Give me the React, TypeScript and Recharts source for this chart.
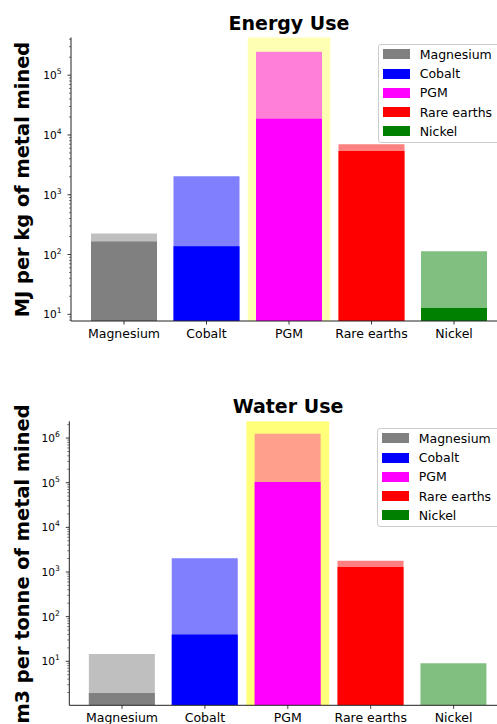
import React from 'react';
import { BarChart, Bar, XAxis, YAxis, ReferenceArea, Cell, Legend } from 'recharts';

const categories = ['Magnesium', 'Cobalt', 'PGM', 'Rare earths', 'Nickel'];
const energyMax = [224, 2040, 247000, 6970, 113];
const energyMin = [165, 137, 18600, 5410, 12.7];
const waterMax = [14.6, 2040, 1250000, 1775, 9];
const waterMin = [1.95, 40, 103000, 1300, null];
const darkColors = ['#808080', '#0000ff', '#ff00ff', '#ff0000', '#008000'];
const energyLightColors = ['#bfbfbf', '#8080ff', '#ff80d6', '#ff8080', '#80bf80'];
const waterLightColors = ['#bfbfbf', '#8080ff', '#ffa08c', '#ff8080', '#80bf80'];

const FONT = 'DejaVu Sans, Verdana, sans-serif';

const logTicks = (lo: number, hi: number) => {
  const out: number[] = [];
  for (let e = -1; e <= 7; e++) {
    for (let m = 1; m <= 9; m++) {
      const v = m * Math.pow(10, e);
      if (v >= lo && v <= hi) out.push(v);
    }
  }
  return out;
};

const YTick = (props: any) => {
  const { x, y, payload } = props;
  const v = payload.value;
  const exp = Math.log10(v);
  const major = Math.abs(exp - Math.round(exp)) < 1e-6;
  return (
    <g>
      <line x1={x} x2={x - (major ? 3.5 : 2)} y1={y} y2={y} stroke="#222" strokeWidth={major ? 0.9 : 0.6} />
      {major && (
        <text x={x - 9.5} y={y + 4} textAnchor="end" fontSize={10.6} fontFamily={FONT} fill="#000">
          10<tspan dy={-5} fontSize={7.6}>{Math.round(exp)}</tspan>
        </text>
      )}
    </g>
  );
};

const XTick = (props: any) => {
  const { x, y, payload } = props;
  return (
    <g>
      <line x1={x} x2={x} y1={y} y2={y + 3.5} stroke="#222" strokeWidth={0.9} />
      <text x={x} y={y + 17} textAnchor="middle" fontSize={12.5} fontFamily={FONT} fill="#000">
        {payload.value}
      </text>
    </g>
  );
};

const LegendBox = () => (
  <div
    style={{
      position: 'relative',
      width: 125,
      height: 99,
      boxSizing: 'border-box',
      border: '1px solid #cccccc',
      borderRadius: 3,
      background: 'rgba(255,255,255,0.8)',
      fontFamily: FONT,
      fontSize: 12.5,
      color: '#000',
    }}
  >
    {categories.map((c, i) => (
      <div key={c}>
        <div
          style={{
            position: 'absolute',
            left: 4,
            top: 10.3 + 19.2 * i - 5.5,
            width: 27,
            height: 10,
            background: darkColors[i],
          }}
        />
        <div
          style={{
            position: 'absolute',
            left: 41,
            top: 10.3 + 19.2 * i - 8,
            lineHeight: '16px',
            whiteSpace: 'nowrap',
          }}
        >
          {c}
        </div>
      </div>
    ))}
  </div>
);

type PanelProps = {
  maxVals: (number | null)[];
  minVals: (number | null)[];
  lightColors: string[];
  domain: [number, number];
  top: number;
  left: number;
  bottom: number;
  right: number;
  pad: number;
  title: string;
  titleX: number;
  titleY: number;
  ylabel: string;
  ylabelY: number;
  highlight: string;
  legendLeft: number;
  legendTop: number;
};

const Panel = (p: PanelProps) => {
  const data = categories.map((name, i) => ({ name, max: p.maxVals[i], min: p.minVals[i] }));
  const W = 540;
  const H = 360;
  return (
    <BarChart
      width={W}
      height={H}
      data={data}
      margin={{ top: p.top, right: W - p.right, bottom: H - p.bottom - 30, left: 0 }}
      barCategoryGap="10%"
    >
      <XAxis xAxisId="dark" dataKey="name" hide height={0} padding={{ left: p.pad, right: p.pad }} />
      <XAxis
        xAxisId="light"
        dataKey="name"
        height={30}
        padding={{ left: p.pad, right: p.pad }}
        tick={<XTick />}
        tickLine={false}
        tickSize={0}
        tickMargin={0}
        interval={0}
        axisLine={{ stroke: '#222', strokeWidth: 1 }}
      />
      <XAxis
        xAxisId="frame"
        orientation="top"
        dataKey="name"
        height={0}
        padding={{ left: p.pad, right: p.pad }}
        tick={false}
        tickLine={false}
        axisLine={{ stroke: '#222', strokeWidth: 1 }}
      />
      <YAxis
        type="number"
        scale="log"
        domain={p.domain}
        allowDataOverflow
        width={p.left}
        ticks={logTicks(p.domain[0], p.domain[1])}
        interval={0}
        tick={<YTick />}
        tickLine={false}
        tickSize={0}
        tickMargin={0}
        axisLine={{ stroke: '#222', strokeWidth: 1 }}
      />
      <ReferenceArea xAxisId="light" x1="PGM" x2="PGM" fill={p.highlight} fillOpacity={1} stroke="none" />
      <Bar xAxisId="light" dataKey="max" isAnimationActive={false}>
        {data.map((d, i) => (
          <Cell key={d.name} fill={p.lightColors[i]} />
        ))}
      </Bar>
      <Bar xAxisId="dark" dataKey="min" isAnimationActive={false}>
        {data.map((d, i) => (
          <Cell key={d.name} fill={darkColors[i]} />
        ))}
      </Bar>
      <Legend
        layout="vertical"
        align="center"
        verticalAlign="middle"
        content={() => <LegendBox />}
        wrapperStyle={{ position: 'absolute', left: p.legendLeft, top: p.legendTop, width: 125, height: 99 }}
      />
      <text x={p.titleX} y={p.titleY} textAnchor="middle" fontSize={19} fontWeight="bold" fontFamily={FONT} fill="#000">
        {p.title}
      </text>
      <text
        transform={`translate(22.5, ${p.ylabelY}) rotate(-90)`}
        textAnchor="middle"
        dominantBaseline="central"
        fontSize={19.4}
        fontWeight="bold"
        fontFamily={FONT}
        fill="#000"
      >
        {p.ylabel}
      </text>
    </BarChart>
  );
};

export default function App() {
  return (
    <div style={{ position: 'absolute', left: 0, top: 0, width: 497, height: 724, overflow: 'hidden', background: '#fff' }}>
      <div style={{ position: 'absolute', left: 0, top: 0 }}>
        <Panel
          maxVals={energyMax}
          minVals={energyMin}
          lightColors={energyLightColors}
          domain={[7.73, 427000]}
          top={37.5}
          left={71}
          bottom={321}
          right={507}
          pad={11.75}
          title="Energy Use"
          titleX={289}
          titleY={30}
          ylabel="MJ per kg of metal mined"
          ylabelY={179.5}
          highlight="#ffffb3"
          legendLeft={377.7}
          legendTop={43.7}
        />
      </div>
      <div style={{ position: 'absolute', left: 0, top: 390 }}>
        <Panel
          maxVals={waterMax}
          minVals={waterMin}
          lightColors={waterLightColors}
          domain={[1.035, 2370000]}
          top={31.3}
          left={69.3}
          bottom={315.3}
          right={506.3}
          pad={11.25}
          title="Water Use"
          titleX={288}
          titleY={23}
          ylabel="m3 per tonne of metal mined"
          ylabelY={174}
          highlight="#ffff7a"
          legendLeft={376.7}
          legendTop={37.7}
        />
      </div>
    </div>
  );
}
